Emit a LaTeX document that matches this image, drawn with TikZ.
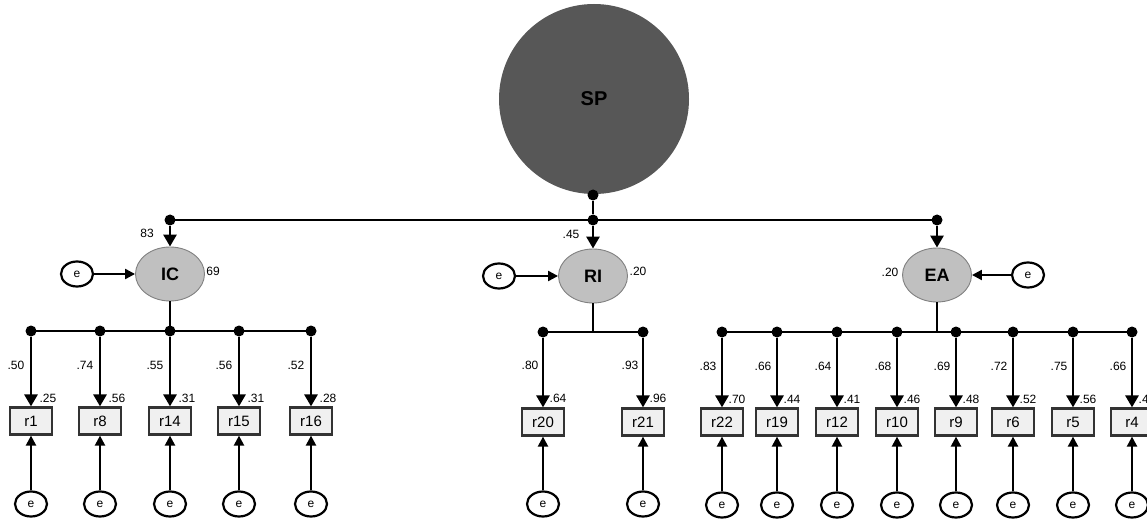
\documentclass[tikz,border=0pt]{standalone}
\usepackage{fontspec}
\setmainfont{Liberation Sans}
\usetikzlibrary{arrows.meta,shapes.geometric}
\definecolor{spfill}{HTML}{575757}
\definecolor{latfill}{HTML}{C0C0C0}
\definecolor{latline}{HTML}{808080}
\definecolor{itemfill}{HTML}{F0F0F0}
\begin{document}
\begin{tikzpicture}[x=1pt,y=-1pt,
  top/.style={circle,fill=spfill,minimum size=190pt,inner sep=0pt,font=\fontsize{20}{20}\selectfont\bfseries},
  latent/.style={ellipse,draw=latline,line width=0.9pt,fill=latfill,minimum width=69pt,minimum height=54pt,inner sep=0pt,font=\fontsize{18}{18}\selectfont\bfseries},
  err/.style={ellipse,draw=black,line width=2.2pt,fill=white,minimum width=32pt,minimum height=25pt,inner sep=0pt,font=\fontsize{12}{12}\selectfont},
  item/.style={rectangle,draw=black!80,line width=2.2pt,fill=itemfill,minimum width=42pt,minimum height=27pt,inner sep=0pt,font=\fontsize{15}{15}\selectfont},
  jdot/.style={circle,fill=black,inner sep=0pt,minimum size=11pt},
  load/.style={line width=2.8pt,-{Triangle[width=13pt,length=12pt]}},
  errarrow/.style={line width=2.2pt,-{Triangle[width=10pt,length=10pt]}},
  bar/.style={line width=1.8pt},
  coef/.style={font=\fontsize{12}{12}\selectfont,inner sep=0pt},
]
\useasboundingbox (0,0) rectangle (1147,521);
\clip (0,0) rectangle (1147,521);

% second-order factor
\node[top] (SP) at (594,99) {SP};
\node[jdot] (spdot) at (593,195) {};
\node[jdot] (dIC) at (170,220) {};
\node[jdot] (dRI) at (593,220) {};
\node[jdot] (dEA) at (937,220) {};
\draw[bar] (spdot) -- (dRI);
\draw[bar] (dIC.center) -- (dEA.center);

% first-order factors
\node[latent] (IC) at (170,274) {IC};
\node[latent] (RI) at (593,276) {RI};
\node[latent] (EA) at (937,275) {EA};
\draw[load] (dIC) -- (IC);
\draw[load] (dRI) -- (RI);
\draw[load] (dEA) -- (EA);
\node[coef] at (147,233) {83};
\node[coef] at (213,271) {69};
\node[coef] at (571,234) {.45};
\node[coef] at (638,271) {.20};
\node[coef] at (890,272) {.20};

% disturbances
\node[err] (eIC) at (77,274) {e};
\node[err] (eRI) at (499,276) {e};
\node[err] (eEA) at (1028,275) {e};
\draw[errarrow] (eIC) -- (IC);
\draw[errarrow] (eRI) -- (RI);
\draw[errarrow] (eEA) -- (EA);

% junctions below the factors
\coordinate (jIC) at (170,331);
\coordinate (jRI) at (593,332);
\coordinate (jEA) at (937,332);
\draw[bar] (IC) -- (jIC);
\draw[bar] (RI) -- (jRI);
\draw[bar] (EA) -- (jEA);

% indicators of IC
\foreach \nm/\x/\ld/\rs in {r1/31/.50/.25, r8/100/.74/.56, r14/170/.55/.31, r15/239/.56/.31, r16/311/.52/.28}{
  \node[jdot] (d\nm) at (\x,331) {};
  \node[item] (\nm) at (\x,421) {\nm};
  \node[err] (e\nm) at (\x,504) {e};
  \draw[load] (d\nm) -- (\nm);
  \draw[errarrow] (e\nm) -- (\nm);
  \node[coef] at (\x-15,365) {\ld};
  \node[coef] at (\x+17,398) {\rs};
}
\draw[bar] (dr1.center) -- (dr16.center);

% indicators of RI
\foreach \nm/\x/\ld/\rs in {r20/543/.80/.64, r21/643/.93/.96}{
  \node[jdot] (d\nm) at (\x,332) {};
  \node[item] (\nm) at (\x,422) {\nm};
  \node[err] (e\nm) at (\x,504) {e};
  \draw[load] (d\nm) -- (\nm);
  \draw[errarrow] (e\nm) -- (\nm);
  \node[coef] at (\x-13,365) {\ld};
  \node[coef] at (\x+15,398) {\rs};
}
\draw[bar] (dr20.center) -- (dr21.center);

% indicators of EA
\foreach \nm/\x/\ld/\rs in {r22/722/.83/.70, r19/777/.66/.44, r12/837/.64/.41, r10/897/.68/.46, r9/956/.69/.48, r6/1013/.72/.52, r5/1073/.75/.56, r4/1132/.66/.44}{
  \node[jdot] (d\nm) at (\x,332) {};
  \node[item] (\nm) at (\x,422) {\nm};
  \node[err] (e\nm) at (\x,505) {e};
  \draw[load] (d\nm) -- (\nm);
  \draw[errarrow] (e\nm) -- (\nm);
  \node[coef] at (\x-14,366) {\ld};
  \node[coef] at (\x+15,399) {\rs};
}
\draw[bar] (dr22.center) -- (dr4.center);
\end{tikzpicture}
\end{document}
